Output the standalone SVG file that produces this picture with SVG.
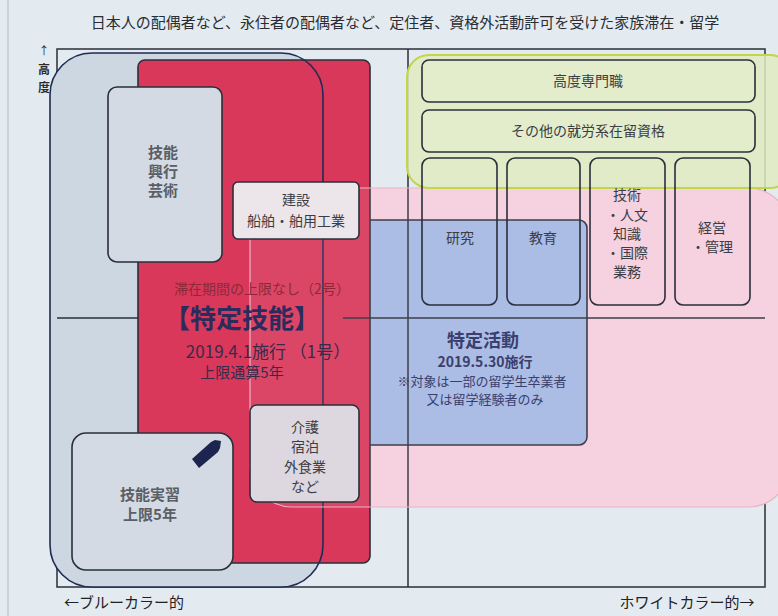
<svg xmlns="http://www.w3.org/2000/svg" width="778" height="616" viewBox="0 0 778 616">
<style>
text{font-family:"Noto Sans CJK JP","Noto Sans",sans-serif;text-anchor:middle}
.box{stroke:#2a2f3a;stroke-width:1.6}
.lbl{fill:#3a3d45;font-size:14px}
.gray{fill:#5a5e66;font-size:15px;font-weight:bold}
.ln{stroke:#2a2f3a;stroke-width:1.5;fill:none}
</style>
<rect width="778" height="616" fill="#e3ebf0"/>
<line x1="8" y1="0" x2="8" y2="616" stroke="#c9d3da" stroke-width="2"/>
<text x="405" y="28" style="font-size:15px;fill:#2a2d33">日本人の配偶者など、永住者の配偶者など、定住者、資格外活動許可を受けた家族滞在・留学</text>
<g id="frame">
<rect x="57" y="49" width="708" height="538" fill="#fafbfc" class="ln"/>
</g>
<g id="whitecollar-fill"><rect x="250" y="188" width="540" height="319" rx="42" fill="#f7d3e0"/></g>
<g id="bluecollar-fill"><rect x="50" y="53" width="273" height="534" rx="42" fill="#cdd7e2"/></g>
<g id="tokutei-katsudo"><rect x="330" y="220" width="257" height="225" rx="8" fill="#a3bce7" class="box"/></g>
<g id="tokutei-gino"><rect x="138" y="60" width="232" height="503" rx="7" fill="#d9385a" class="box"/></g>
<g id="connectors">
<line x1="57" y1="318" x2="138" y2="318" class="ln"/>
<line x1="343" y1="318" x2="765" y2="318" class="ln"/>
<line x1="408" y1="49" x2="408" y2="587" class="ln"/>
</g>
<g id="gino-kogyo"><rect x="108" y="87" width="114" height="175" rx="9" fill="#d3dae3" class="box"/>
<text class="gray" x="163" y="158">技能</text><text class="gray" x="163" y="177">興行</text><text class="gray" x="163" y="196">芸術</text></g>
<g id="gino-jisshu"><rect x="72" y="433" width="161" height="137" rx="14" fill="#d3dae3" class="box"/>
<text class="gray" x="150" y="500">技能実習</text><text class="gray" x="150" y="520">上限5年</text>
<path d="M192 459 L211 442 L215 440 L221 441 L220 448 L218 452 L199 468 Z" fill="#1c2450"/></g>
<g id="bluecollar"><rect x="50" y="53" width="273" height="534" rx="42" fill="none" stroke="#1f2a55" stroke-width="1.6"/></g>
<g id="whitecollar"><rect x="250" y="188" width="540" height="319" rx="42" fill="#f6c9da" fill-opacity="0.1" stroke="#e9b3c6" stroke-width="1.2"/></g>
<g id="green"><rect x="407" y="55" width="385" height="133" rx="22" fill="#e2ebbf" fill-opacity="0.85" stroke="#c2d64a" stroke-width="2"/></g>
<g id="kodo"><rect x="422" y="60" width="333" height="42" rx="7" fill="#e3eccb" class="box"/><text class="lbl" x="588" y="86">高度専門職</text></g>
<g id="sonota"><rect x="422" y="110" width="333" height="42" rx="7" fill="#e3eccb" class="box"/><text class="lbl" x="588" y="136">その他の就労系在留資格</text></g>
<g id="kenkyu"><rect x="422" y="158" width="75" height="147" rx="8" fill="none" class="box"/><text class="lbl" x="460" y="243">研究</text></g>
<g id="kyoiku"><rect x="507" y="158" width="73" height="147" rx="8" fill="none" class="box"/><text class="lbl" x="543" y="243">教育</text></g>
<g id="gijutsu"><rect x="590" y="158" width="75" height="147" rx="8" fill="none" class="box"/>
<text class="lbl" x="627" y="200">技術</text><text class="lbl" x="627" y="220">・人文</text><text class="lbl" x="627" y="239">知識</text><text class="lbl" x="627" y="258">・国際</text><text class="lbl" x="627" y="277">業務</text></g>
<g id="keiei"><rect x="675" y="158" width="75" height="147" rx="8" fill="none" class="box"/><text class="lbl" x="712" y="233">経営</text><text class="lbl" x="712" y="252">・管理</text></g>
<g id="kensetsu"><rect x="233" y="182" width="126" height="57" rx="5" fill="#ece5ea" class="box"/>
<text class="lbl" x="296" y="205">建設</text><text class="lbl" x="296" y="226">船舶・舶用工業</text></g>
<g id="kaigo"><rect x="250" y="405" width="109" height="97" rx="7" fill="#ddd7df" class="box"/>
<text class="lbl" x="305" y="432">介護</text><text class="lbl" x="305" y="452">宿泊</text><text class="lbl" x="305" y="472">外食業</text><text class="lbl" x="305" y="492">など</text></g>
<g id="labels-red">
<text x="262" y="294" style="font-size:14px;fill:#8c2a3a">滞在期間の上限なし（2号）</text>
<text x="242" y="328" style="font-size:26px;font-weight:bold;fill:#2b2b5c">【特定技能】</text>
<text x="268" y="358" style="font-size:17px;fill:#3a2a4a">2019.4.1施行 （1号）</text>
<text x="242" y="378" style="font-size:15px;fill:#3a2a4a">上限通算5年</text>
</g>
<g id="labels-blue">
<text x="483" y="347" style="font-size:18px;font-weight:bold;fill:#3a3f6e">特定活動</text>
<text x="485" y="367" style="font-size:14px;font-weight:bold;fill:#3a3f6e">2019.5.30施行</text>
<text x="482" y="386" style="font-size:13px;fill:#3a3f6e">※対象は一部の留学生卒業者</text>
<text x="485" y="404" style="font-size:13px;fill:#3a3f6e">又は留学経験者のみ</text>
</g>
<g id="axes">
<text x="44" y="55" style="font-size:11px;fill:#2a2d33">↑</text>
<text x="44" y="74" style="font-size:12px;font-weight:bold;fill:#2a2d33">高</text>
<text x="44" y="92" style="font-size:12px;font-weight:bold;fill:#2a2d33">度</text>
<text x="124" y="608" style="font-size:15px;fill:#1e2126">←ブルーカラー的</text>
<text x="687" y="608" style="font-size:15px;fill:#1e2126">ホワイトカラー的→</text>
</g>
</svg>
